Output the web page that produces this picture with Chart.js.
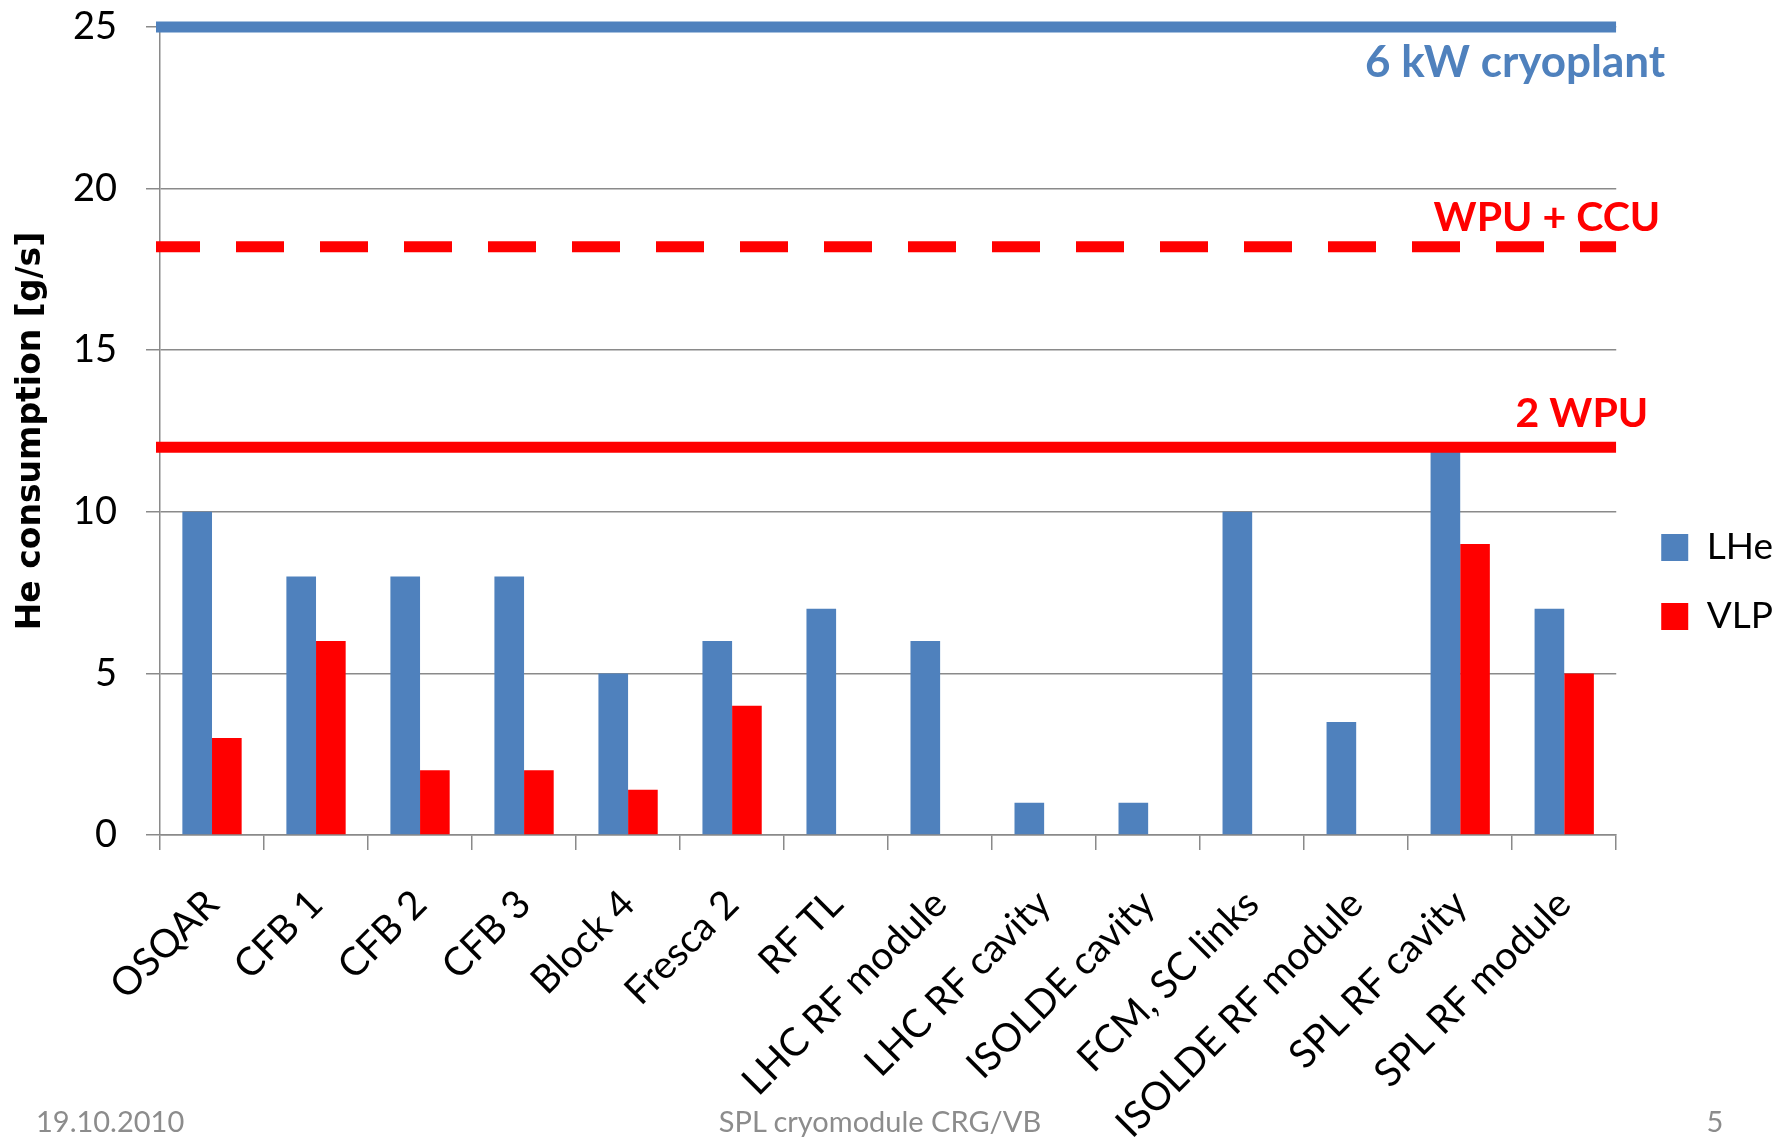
<!DOCTYPE html>
<html>
<head>
<meta charset="utf-8">
<title>He consumption</title>
<script src="https://cdn.jsdelivr.net/npm/chart.js@4.4.0/dist/chart.umd.min.js"></script>
<style>
  html, body { margin: 0; padding: 0; background: #fff; }
  #chart-wrapper { position: relative; width: 1786px; height: 1141px; overflow: hidden; }
  #myChart { position: absolute; left: 0; top: 0; }
  .foot { position: absolute; top: 1101px; font-family: Lato, sans-serif; font-size: 29px; line-height: 40px; color: #8c8c8c; white-space: nowrap; }
</style>
</head>
<body>
<div id="chart-wrapper">
  <canvas id="myChart" width="1786" height="1141"></canvas>
  <div class="foot" style="left:36px">19.10.2010</div>
  <div class="foot" style="left:880px; transform: translateX(-50%)">SPL cryomodule CRG/VB</div>
  <div class="foot" style="left:1715px; transform: translateX(-50%)">5</div>
</div>
<script>
// Data dari gambar
const categories = [
  "OSQAR", "CFB 1", "CFB 2", "CFB 3", "Block 4", "Fresca 2", "RF TL",
  "LHC RF module", "LHC RF cavity", "ISOLDE cavity", "FCM, SC links",
  "ISOLDE RF module", "SPL RF cavity", "SPL RF module"
];
const lheValues = [10, 8, 8, 8, 5, 6, 7, 6, 1, 1, 10, 3.5, 12, 7];
const vlpValues = [3, 6, 2, 2, 1.4, 4, null, null, null, null, null, null, 9, 5];

// Garis batas kapasitas
const limitNames = ["6 kW cryoplant", "WPU + CCU", "2 WPU"];
const limitValues = [25, 18.2, 12];

const yTickStep = 5;
const yMax = 25;

// Gaya garis batas (warna, dash, ukuran font, posisi teks relatif)
const limitStyle = [
  { color: "#4F81BD", dash: [], size: 44, dx: 49, dy: 50 },
  { color: "#FF0000", dash: [48, 36], size: 41, dx: 44, dy: -16 },
  { color: "#FF0000", dash: [], size: 41, dx: 32, dy: -20 },
];

const gridColor = "#8a8a8a";

// Plugin untuk menggambar garis batas dan labelnya
const limitLines = {
  id: "limitLines",
  afterDatasetsDraw(chart) {
    const { ctx, chartArea, scales } = chart;
    limitValues.forEach((v, i) => {
      const st = limitStyle[i];
      const y = scales.y.getPixelForValue(v);
      ctx.save();
      ctx.beginPath();
      ctx.rect(chartArea.left - 4, 0, chartArea.right - chartArea.left + 4, chart.height);
      ctx.clip();
      ctx.strokeStyle = st.color;
      ctx.lineWidth = 11;
      ctx.setLineDash(st.dash);
      ctx.lineDashOffset = 4;
      ctx.beginPath();
      ctx.moveTo(chartArea.left - 4, y);
      ctx.lineTo(chartArea.right, y);
      ctx.stroke();
      ctx.restore();

      ctx.save();
      ctx.fillStyle = st.color;
      ctx.font = "bold " + st.size + "px Lato";
      ctx.textAlign = "right";
      ctx.textBaseline = "alphabetic";
      ctx.fillText(limitNames[i], chartArea.right + st.dx, y + st.dy);
      ctx.restore();
    });
  }
};

// Geser legend ke posisi seperti gambar
const legendSpot = {
  id: "legendSpot",
  afterLayout(chart) {
    const lg = chart.legend;
    const a = chart.chartArea;
    const dx = a.right + 13 - lg.left;
    const dy = a.top + 470 - lg.top;
    lg.left += dx;
    lg.right += dx;
    lg.top += dy;
    lg.bottom += dy;
  }
};

const data = {
  labels: categories,
  datasets: [
    {
      label: "LHe",
      data: lheValues,
      backgroundColor: "#4F81BD",
      borderWidth: 0,
    },
    {
      label: "VLP",
      data: vlpValues,
      backgroundColor: "#FF0000",
      borderWidth: 0,
    },
  ],
};

const config = {
  type: "bar",
  data: data,
  plugins: [limitLines, legendSpot],
  options: {
    responsive: false,
    animation: false,
    devicePixelRatio: 1,
    layout: { padding: { top: 0, right: 16, bottom: 0, left: 0 } },
    datasets: {
      bar: { categoryPercentage: 0.57, barPercentage: 1.0 },
    },
    plugins: {
      tooltip: { enabled: false },
      legend: {
        position: "right",
        align: "start",
        labels: {
          boxWidth: 27,
          boxHeight: 27,
          padding: 32,
          color: "#000",
          font: { family: "Lato", size: 37 },
        },
      },
    },
    scales: {
      x: {
        grid: { drawOnChartArea: false, tickLength: 15, color: gridColor, lineWidth: 1.5 },
        border: { color: gridColor, width: 1.5 },
        ticks: {
          autoSkip: false,
          minRotation: 45,
          maxRotation: 45,
          padding: 31,
          color: "#000",
          font: { family: "Lato", size: 39 },
        },
        afterFit: (axis) => { axis.height = 306; },
      },
      y: {
        min: 0,
        max: yMax,
        ticks: {
          stepSize: yTickStep,
          padding: 29,
          color: "#000",
          font: { family: "Lato", size: 38 },
        },
        grid: { tickLength: 14, color: gridColor, lineWidth: 1.5 },
        border: { color: gridColor, width: 1.5 },
        title: {
          display: true,
          text: "He consumption [g/s]",
          color: "#000",
          font: { family: "DejaVu Sans", size: 33, weight: "bold" },
          padding: { top: 12, bottom: 0 },
        },
        afterFit: (axis) => {
          axis.width = 160;
          axis.paddingTop = 27;
        },
      },
    },
  },
};

new Chart(document.getElementById("myChart"), config);
</script>
</body>
</html>
